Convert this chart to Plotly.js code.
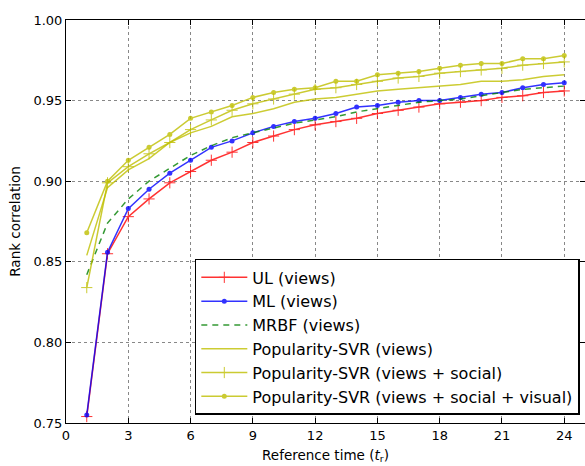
<!DOCTYPE html>
<html>
<head>
<meta charset="utf-8">
<script src="https://cdn.plot.ly/plotly-3.0.1.min.js"></script>
<style>html,body{margin:0;padding:0;background:#fff;}#chart{width:585px;height:466px;}</style>
</head>
<body>
<div id="chart"></div>
<script>
const referenceTime = [1,2,3,4,5,6,7,8,9,10,11,12,13,14,15,16,17,18,19,20,21,22,23,24];
const seriesNames = ["UL (views)", "ML (views)", "MRBF (views)", "Popularity-SVR (views)", "Popularity-SVR (views + social)", "Popularity-SVR (views + social + visual)"];
const ulViews = [0.754,0.855,0.878,0.889,0.899,0.906,0.913,0.918,0.924,0.928,0.932,0.935,0.937,0.939,0.942,0.944,0.946,0.948,0.949,0.950,0.952,0.953,0.955,0.956];
const mlViews = [0.755,0.856,0.883,0.895,0.905,0.913,0.921,0.925,0.930,0.934,0.937,0.939,0.942,0.946,0.947,0.949,0.950,0.950,0.952,0.954,0.955,0.958,0.960,0.961];
const mrbfViews = [0.842,0.874,0.889,0.900,0.908,0.916,0.922,0.927,0.930,0.933,0.936,0.938,0.940,0.943,0.945,0.947,0.949,0.950,0.951,0.953,0.955,0.957,0.958,0.959];
const svrViews = [0.854,0.896,0.907,0.914,0.924,0.930,0.934,0.940,0.942,0.945,0.949,0.951,0.952,0.954,0.956,0.957,0.958,0.959,0.960,0.962,0.962,0.963,0.965,0.966];
const svrSocial = [0.834,0.899,0.909,0.917,0.924,0.932,0.938,0.944,0.948,0.951,0.954,0.957,0.958,0.960,0.962,0.964,0.965,0.967,0.968,0.969,0.970,0.972,0.973,0.974];
const svrVisual = [0.868,0.900,0.913,0.921,0.929,0.939,0.943,0.947,0.952,0.955,0.957,0.958,0.962,0.962,0.966,0.967,0.968,0.970,0.972,0.973,0.973,0.976,0.976,0.978];
const xTicks = [0,3,6,9,12,15,18,21,24];
const yTicks = [0.75,0.80,0.85,0.90,0.95,1.00];

const yellow = 'rgb(191,191,0)';
const traces = [
  {y: ulViews, color: 'rgb(255,0,0)', dash: 'solid', marker: {symbol: 'cross-thin-open', size: 8, line: {width: 1, color: 'rgb(255,0,0)'}}, mode: 'lines+markers'},
  {y: mlViews, color: 'rgb(0,0,255)', dash: 'solid', marker: {symbol: 'circle', size: 5, color: 'rgb(0,0,255)'}, mode: 'lines+markers'},
  {y: mrbfViews, color: 'rgb(0,128,0)', dash: '6px,5px', marker: null, mode: 'lines'},
  {y: svrViews, color: yellow, dash: 'solid', marker: null, mode: 'lines'},
  {y: svrSocial, color: yellow, dash: 'solid', marker: {symbol: 'cross-thin-open', size: 8, line: {width: 1, color: yellow}}, mode: 'lines+markers'},
  {y: svrVisual, color: yellow, dash: 'solid', marker: {symbol: 'circle', size: 5, color: yellow}, mode: 'lines+markers'}
].map((t, i) => {
  const tr = {
    x: referenceTime, y: t.y, name: seriesNames[i], type: 'scatter', mode: t.mode,
    line: {color: t.color, width: 1.5, dash: t.dash}, opacity: 0.8
  };
  if (t.marker) tr.marker = t.marker;
  return tr;
});

const axisCommon = {
  showline: true, linecolor: '#000', linewidth: 1, mirror: 'ticks',
  ticks: 'inside', ticklen: 5, tickcolor: '#000',
  showgrid: true, gridcolor: '#888', griddash: 'dot', gridwidth: 1,
  zeroline: false, tickfont: {family: 'DejaVu Sans', size: 13, color: '#000'}
};

const layout = {
  width: 585, height: 466,
  margin: {l: 66, r: 0, t: 20, b: 43},
  paper_bgcolor: '#fff', plot_bgcolor: '#fff',
  font: {family: 'DejaVu Sans', color: '#000'},
  xaxis: Object.assign({}, axisCommon, {
    range: [0, 25], tickvals: xTicks, ticktext: xTicks.map(String),
    title: {text: 'Reference time (<i>t</i><sub>r</sub>)', font: {family: 'DejaVu Sans', size: 13.5}, standoff: 8}
  }),
  yaxis: Object.assign({}, axisCommon, {
    range: [0.75, 1.0], tickvals: yTicks, ticktext: yTicks.map(v => v.toFixed(2)),
    title: {text: 'Rank correlation', font: {family: 'DejaVu Sans', size: 13.5}, standoff: 9}
  }),
  legend: {
    x: 0.99, y: 0.02, xanchor: 'right', yanchor: 'bottom',
    bgcolor: '#fff', bordercolor: '#000', borderwidth: 1.5,
    font: {family: 'DejaVu Sans', size: 16, color: '#000'},
    itemwidth: 46,
    tracegroupgap: 0
  },
  showlegend: true
};

Plotly.newPlot('chart', traces, layout, {staticPlot: true, displayModeBar: false});
</script>
</body>
</html>
